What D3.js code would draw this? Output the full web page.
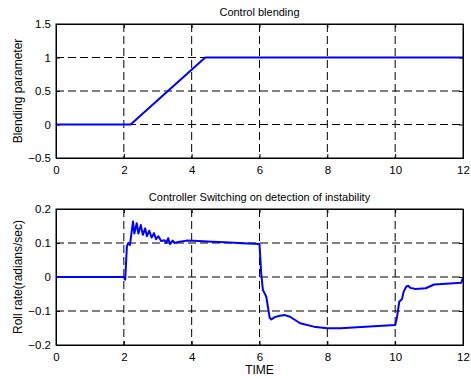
<!DOCTYPE html>
<html>
<head>
<meta charset="utf-8">
<script src="https://cdn.jsdelivr.net/npm/d3@7"></script>
<style>
  body { margin: 0; background: #fff; }
  svg { display: block; }
  text { font-family: "Liberation Sans", Arial, sans-serif; fill: #000; }
</style>
</head>
<body>
<svg id="chart" width="471" height="379"></svg>
<script>
// x ticks shared by both panels
var timeTicks = [0, 2, 4, 6, 8, 10, 12];

// top panel: blending parameter
var blendTicks = [-0.5, 0, 0.5, 1, 1.5];
var blendT = [0, 2.2, 4.4, 12];
var blendV = [0, 0, 1, 1];

// bottom panel: roll rate
var rollTicks = [-0.2, -0.1, 0, 0.1, 0.2];
var rollT = [0, 2.0, 2.04, 2.09, 2.13, 2.18, 2.27, 2.31, 2.38, 2.43, 2.5, 2.56, 2.63, 2.68,
  2.75, 2.82, 2.89, 2.95, 3.02, 3.1, 3.2, 3.25, 3.31, 3.36, 3.44, 3.5, 3.6, 3.85, 4.2, 4.6,
  5.0, 5.5, 6.0, 6.05, 6.1, 6.2, 6.3, 6.35, 6.45, 6.6, 6.75, 6.9, 7.2, 7.6, 8.0, 8.4, 9.0,
  9.5, 10.0, 10.05, 10.12, 10.2, 10.25, 10.33, 10.38, 10.45, 10.6, 10.9, 11.15, 11.5, 11.95, 12.0];
var rollV = [0, 0, -0.008, 0.09, 0.1, 0.094, 0.163, 0.128, 0.158, 0.128, 0.153, 0.124, 0.143, 0.12,
  0.136, 0.116, 0.129, 0.111, 0.12, 0.106, 0.108, 0.1, 0.114, 0.097, 0.107, 0.1, 0.103, 0.107, 0.106, 0.104,
  0.102, 0.099, 0.097, 0.011, -0.038, -0.058, -0.12, -0.125, -0.118, -0.114, -0.112, -0.117, -0.136, -0.146, -0.151, -0.151, -0.147,
  -0.144, -0.141, -0.121, -0.073, -0.065, -0.043, -0.028, -0.026, -0.032, -0.035, -0.033, -0.022, -0.02, -0.017, -0.002];

var svg = d3.select("#chart");

function panel(top, bottom, yDomain, yTicks, ts, vs, title, yLabel) {
  var x = d3.scaleLinear().domain([0, 12]).range([56, 463]);
  var y = d3.scaleLinear().domain(yDomain).range([bottom, top]);
  var g = svg.append("g");

  // dashed grid
  g.selectAll(".vg").data(timeTicks.slice(1, -1)).enter().append("line")
    .attr("x1", function (d) { return x(d); }).attr("x2", function (d) { return x(d); })
    .attr("y1", top).attr("y2", bottom)
    .attr("stroke", "#000").attr("stroke-width", 1).attr("stroke-dasharray", "8,4");
  g.selectAll(".hg").data(yTicks.slice(1, -1)).enter().append("line")
    .attr("x1", x(0)).attr("x2", x(12))
    .attr("y1", function (d) { return y(d); }).attr("y2", function (d) { return y(d); })
    .attr("stroke", "#000").attr("stroke-width", 1).attr("stroke-dasharray", "8,4");

  // axes, ticks pointing inward on all four sides
  g.append("g").attr("transform", "translate(0," + bottom + ")")
    .call(d3.axisBottom(x).tickValues(timeTicks).tickSize(-4).tickPadding(8).tickFormat(d3.format("d")));
  g.append("g").attr("transform", "translate(" + x(0) + ",0)")
    .call(d3.axisLeft(y).tickValues(yTicks).tickSize(-4).tickPadding(5).tickFormat(d3.format("")));
  g.append("g").attr("transform", "translate(0," + top + ")")
    .call(d3.axisTop(x).tickValues(timeTicks).tickSize(-4).tickFormat(""));
  g.append("g").attr("transform", "translate(" + x(12) + ",0)")
    .call(d3.axisRight(y).tickValues(yTicks).tickSize(-4).tickFormat(""));
  g.selectAll(".domain").attr("stroke", "#000");
  g.selectAll(".tick line").attr("stroke", "#000");
  g.selectAll(".tick text").attr("font-size", 11.5).attr("font-family", "Liberation Sans, Arial, sans-serif");

  var line = d3.line().x(function (d, i) { return x(ts[i]); }).y(function (d) { return y(d); });
  g.append("path").datum(vs).attr("d", line)
    .attr("fill", "none").attr("stroke", "#0000ff").attr("stroke-width", 2).attr("stroke-linejoin", "round");

  g.append("rect").attr("x", x(0)).attr("y", top).attr("width", x(12) - x(0)).attr("height", bottom - top)
    .attr("fill", "none").attr("stroke", "#000").attr("stroke-width", 1);

  g.append("text").attr("x", (x(0) + x(12)) / 2).attr("y", top - 8).attr("text-anchor", "middle")
    .attr("font-size", 11).text(title);
  g.append("text").attr("transform", "translate(22," + ((top + bottom) / 2) + ") rotate(-90)")
    .attr("text-anchor", "middle").attr("font-size", 12).text(yLabel);
}

panel(24, 158, [-0.5, 1.5], blendTicks, blendT, blendV, "Control blending", "Blending parameter");
panel(209, 345, [-0.2, 0.2], rollTicks, rollT, rollV,
  "Controller Switching on detection of instability", "Roll rate(radians/sec)");

svg.append("text").attr("x", 259.5).attr("y", 374).attr("text-anchor", "middle")
  .attr("font-size", 12).text("TIME");
</script>
</body>
</html>
